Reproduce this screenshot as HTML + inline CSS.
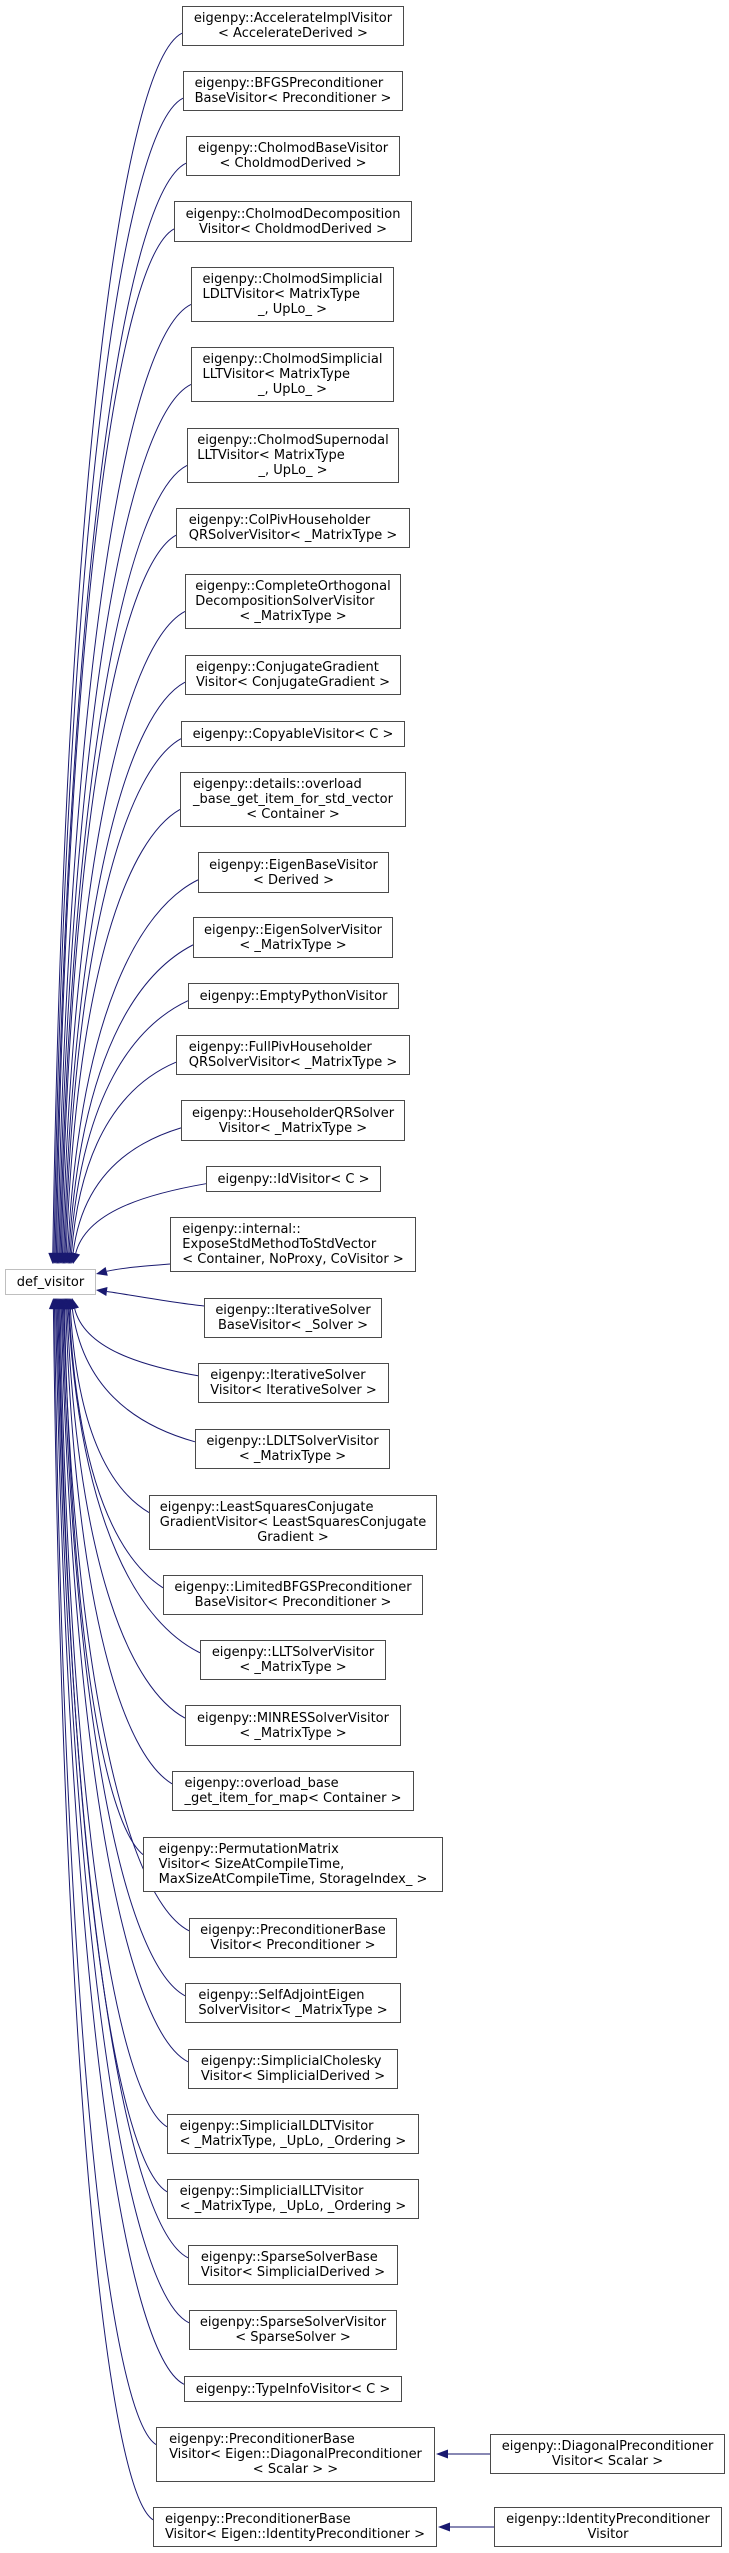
<!DOCTYPE html>
<html><head><meta charset="utf-8">
<style>
html,body{margin:0;padding:0;background:#fff;}
body{width:729px;height:2553px;position:relative;overflow:hidden;font-family:"DejaVu Sans","Liberation Sans",sans-serif;font-size:13px;color:#000;}
.n{position:absolute;box-sizing:border-box;border:1px solid #4a4a4a;background:#fff;display:flex;align-items:center;justify-content:center;z-index:2;}
.t{display:inline-block;text-align:left;line-height:15px;white-space:nowrap;}
.t .c{text-align:center;}
#root{border-color:#bfbfbf;}
svg{position:absolute;left:0;top:0;z-index:1;}
</style></head><body>
<svg id="sv" width="729" height="2553" viewBox="0 0 729 2553">
<line x1="490" y1="2454" x2="447" y2="2454" stroke="#404088" stroke-width="1.3"/>
<polygon points="436,2454 448,2449.5 448,2458.5" fill="#191970"/>
<line x1="494" y1="2527" x2="449" y2="2527" stroke="#404088" stroke-width="1.3"/>
<polygon points="438,2527 450,2522.5 450,2531.5" fill="#191970"/>
</svg>

<div class="n" id="root" style="left:5px;top:1269px;width:91px;height:26px"><div class="t">def_visitor</div></div>

<div class="n e" style="left:182px;top:6px;width:222px;height:40px"><div class="t"><div class="c">eigenpy::AccelerateImplVisitor</div><div class="c">&lt; AccelerateDerived &gt;</div></div></div>
<div class="n e" style="left:183px;top:71px;width:220px;height:40px"><div class="t"><div>eigenpy::BFGSPreconditioner</div><div>BaseVisitor&lt; Preconditioner &gt;</div></div></div>
<div class="n e" style="left:186px;top:136px;width:214px;height:40px"><div class="t"><div class="c">eigenpy::CholmodBaseVisitor</div><div class="c">&lt; CholdmodDerived &gt;</div></div></div>
<div class="n e" style="left:174px;top:201px;width:238px;height:41px"><div class="t"><div class="c">eigenpy::CholmodDecomposition</div><div class="c">Visitor&lt; CholdmodDerived &gt;</div></div></div>
<div class="n e" style="left:191px;top:267px;width:203px;height:55px"><div class="t"><div>eigenpy::CholmodSimplicial</div><div>LDLTVisitor&lt; MatrixType</div><div class="c">_, UpLo_ &gt;</div></div></div>
<div class="n e" style="left:191px;top:347px;width:203px;height:55px"><div class="t"><div>eigenpy::CholmodSimplicial</div><div>LLTVisitor&lt; MatrixType</div><div class="c">_, UpLo_ &gt;</div></div></div>
<div class="n e" style="left:187px;top:428px;width:212px;height:55px"><div class="t"><div>eigenpy::CholmodSupernodal</div><div>LLTVisitor&lt; MatrixType</div><div class="c">_, UpLo_ &gt;</div></div></div>
<div class="n e" style="left:176px;top:508px;width:234px;height:40px"><div class="t"><div>eigenpy::ColPivHouseholder</div><div>QRSolverVisitor&lt; _MatrixType &gt;</div></div></div>
<div class="n e" style="left:185px;top:574px;width:216px;height:55px"><div class="t"><div>eigenpy::CompleteOrthogonal</div><div>DecompositionSolverVisitor</div><div class="c">&lt; _MatrixType &gt;</div></div></div>
<div class="n e" style="left:185px;top:655px;width:216px;height:40px"><div class="t"><div>eigenpy::ConjugateGradient</div><div>Visitor&lt; ConjugateGradient &gt;</div></div></div>
<div class="n e" style="left:181px;top:721px;width:224px;height:26px"><div class="t"><div class="c">eigenpy::CopyableVisitor&lt; C &gt;</div></div></div>
<div class="n e" style="left:180px;top:772px;width:226px;height:55px"><div class="t"><div>eigenpy::details::overload</div><div>_base_get_item_for_std_vector</div><div class="c">&lt; Container &gt;</div></div></div>
<div class="n e" style="left:198px;top:852px;width:191px;height:41px"><div class="t"><div class="c">eigenpy::EigenBaseVisitor</div><div class="c">&lt; Derived &gt;</div></div></div>
<div class="n e" style="left:193px;top:917px;width:200px;height:41px"><div class="t"><div class="c">eigenpy::EigenSolverVisitor</div><div class="c">&lt; _MatrixType &gt;</div></div></div>
<div class="n e" style="left:188px;top:983px;width:211px;height:26px"><div class="t"><div class="c">eigenpy::EmptyPythonVisitor</div></div></div>
<div class="n e" style="left:176px;top:1035px;width:234px;height:40px"><div class="t"><div>eigenpy::FullPivHouseholder</div><div>QRSolverVisitor&lt; _MatrixType &gt;</div></div></div>
<div class="n e" style="left:181px;top:1100px;width:224px;height:41px"><div class="t"><div class="c">eigenpy::HouseholderQRSolver</div><div class="c">Visitor&lt; _MatrixType &gt;</div></div></div>
<div class="n e" style="left:206px;top:1166px;width:175px;height:26px"><div class="t"><div class="c">eigenpy::IdVisitor&lt; C &gt;</div></div></div>
<div class="n e" style="left:170px;top:1217px;width:246px;height:55px"><div class="t"><div>eigenpy::internal::</div><div>ExposeStdMethodToStdVector</div><div>&lt; Container, NoProxy, CoVisitor &gt;</div></div></div>
<div class="n e" style="left:204px;top:1298px;width:178px;height:40px"><div class="t"><div class="c">eigenpy::IterativeSolver</div><div class="c">BaseVisitor&lt; _Solver &gt;</div></div></div>
<div class="n e" style="left:198px;top:1363px;width:191px;height:40px"><div class="t"><div>eigenpy::IterativeSolver</div><div>Visitor&lt; IterativeSolver &gt;</div></div></div>
<div class="n e" style="left:195px;top:1429px;width:195px;height:40px"><div class="t"><div class="c">eigenpy::LDLTSolverVisitor</div><div class="c">&lt; _MatrixType &gt;</div></div></div>
<div class="n e" style="left:149px;top:1495px;width:288px;height:55px"><div class="t"><div>eigenpy::LeastSquaresConjugate</div><div>GradientVisitor&lt; LeastSquaresConjugate</div><div class="c">Gradient &gt;</div></div></div>
<div class="n e" style="left:163px;top:1575px;width:260px;height:40px"><div class="t"><div class="c">eigenpy::LimitedBFGSPreconditioner</div><div class="c">BaseVisitor&lt; Preconditioner &gt;</div></div></div>
<div class="n e" style="left:200px;top:1640px;width:186px;height:40px"><div class="t"><div class="c">eigenpy::LLTSolverVisitor</div><div class="c">&lt; _MatrixType &gt;</div></div></div>
<div class="n e" style="left:185px;top:1705px;width:216px;height:41px"><div class="t"><div class="c">eigenpy::MINRESSolverVisitor</div><div class="c">&lt; _MatrixType &gt;</div></div></div>
<div class="n e" style="left:172px;top:1771px;width:242px;height:40px"><div class="t"><div>eigenpy::overload_base</div><div>_get_item_for_map&lt; Container &gt;</div></div></div>
<div class="n e" style="left:143px;top:1837px;width:300px;height:55px"><div class="t"><div>eigenpy::PermutationMatrix</div><div>Visitor&lt; SizeAtCompileTime,</div><div class="c">MaxSizeAtCompileTime, StorageIndex_ &gt;</div></div></div>
<div class="n e" style="left:189px;top:1918px;width:208px;height:40px"><div class="t"><div class="c">eigenpy::PreconditionerBase</div><div class="c">Visitor&lt; Preconditioner &gt;</div></div></div>
<div class="n e" style="left:185px;top:1983px;width:216px;height:40px"><div class="t"><div>eigenpy::SelfAdjointEigen</div><div>SolverVisitor&lt; _MatrixType &gt;</div></div></div>
<div class="n e" style="left:188px;top:2049px;width:210px;height:40px"><div class="t"><div>eigenpy::SimplicialCholesky</div><div>Visitor&lt; SimplicialDerived &gt;</div></div></div>
<div class="n e" style="left:167px;top:2114px;width:252px;height:40px"><div class="t"><div>eigenpy::SimplicialLDLTVisitor</div><div>&lt; _MatrixType, _UpLo, _Ordering &gt;</div></div></div>
<div class="n e" style="left:167px;top:2179px;width:252px;height:40px"><div class="t"><div>eigenpy::SimplicialLLTVisitor</div><div>&lt; _MatrixType, _UpLo, _Ordering &gt;</div></div></div>
<div class="n e" style="left:188px;top:2245px;width:210px;height:40px"><div class="t"><div>eigenpy::SparseSolverBase</div><div>Visitor&lt; SimplicialDerived &gt;</div></div></div>
<div class="n e" style="left:189px;top:2310px;width:208px;height:40px"><div class="t"><div class="c">eigenpy::SparseSolverVisitor</div><div class="c">&lt; SparseSolver &gt;</div></div></div>
<div class="n e" style="left:184px;top:2376px;width:218px;height:26px"><div class="t"><div class="c">eigenpy::TypeInfoVisitor&lt; C &gt;</div></div></div>
<div class="n e" style="left:156px;top:2427px;width:279px;height:55px"><div class="t"><div>eigenpy::PreconditionerBase</div><div>Visitor&lt; Eigen::DiagonalPreconditioner</div><div class="c">&lt; Scalar &gt; &gt;</div></div></div>
<div class="n e" style="left:153px;top:2507px;width:284px;height:40px"><div class="t"><div>eigenpy::PreconditionerBase</div><div>Visitor&lt; Eigen::IdentityPreconditioner &gt;</div></div></div>

<div class="n" style="left:490px;top:2434px;width:235px;height:40px"><div class="t"><div class="c">eigenpy::DiagonalPreconditioner</div><div class="c">Visitor&lt; Scalar &gt;</div></div></div>
<div class="n" style="left:494px;top:2507px;width:228px;height:40px"><div class="t"><div class="c">eigenpy::IdentityPreconditioner</div><div class="c">Visitor</div></div></div>

<script>
(function(){
var sv=document.getElementById('sv');var NS='http://www.w3.org/2000/svg';
var els=document.querySelectorAll('.n.e');var boxes=[];
for(var i=0;i<els.length;i++){var e=els[i];boxes.push({L:parseFloat(e.style.left),T:parseFloat(e.style.top),H:parseFloat(e.style.height)});}
var out='';
function edge(sx,sy,c1x,c1y,c2x,c2y,tx,ty){
  var dx=tx-c2x,dy=ty-c2y,len=Math.sqrt(dx*dx+dy*dy)||1;dx/=len;dy/=len;
  var al=11,hw=4.5;var bx=tx-dx*al,by=ty-dy*al;
  var c2xx=c2x,c2yy=c2y;
  out+='<path d="M'+sx+','+sy+' C'+c1x+','+c1y+' '+c2xx+','+c2yy+' '+bx.toFixed(1)+','+by.toFixed(1)+'" fill="none" stroke="#191970" stroke-width="1"/>';
  out+='<polygon points="'+tx+','+ty+' '+(bx-dy*hw).toFixed(1)+','+(by+dx*hw).toFixed(1)+' '+(bx+dy*hw).toFixed(1)+','+(by-dx*hw).toFixed(1)+'" fill="#191970"/>';
}
var nAbove=18;
for(var i=0;i<boxes.length;i++){
  var b=boxes[i];
  if(i==18){edge(b.L,b.T+47,b.L-25,b.T+49,120,1268,96,1274);continue;}
  if(i==19){edge(b.L,b.T+8,b.L-30,b.T+5,125,1294,96,1290);continue;}
  if(i<18){
    var k=17-i;var tx=73-k*1.2,ty=1264;
    var sx=b.L,sy=b.T+b.H*0.68;var dxx=sx-tx,dyy=ty-sy;
    edge(sx,sy,sx-0.45*dxx,sy+Math.min(25,0.08*dyy)+4,tx+0.1*dxx,sy+0.35*dyy,tx,ty);
  }else{
    var k=i-20;var tx=72-k*1.1,ty=1298;
    var sx=b.L,sy=b.T+b.H*0.32;var dxx=sx-tx,dyy=sy-ty;
    edge(sx,sy,sx-0.45*dxx,sy-Math.min(25,0.08*dyy)-4,tx+0.1*dxx,sy-0.35*dyy,tx,ty);
  }
}
sv.insertAdjacentHTML('beforeend',out);
})();
</script>
</body></html>
